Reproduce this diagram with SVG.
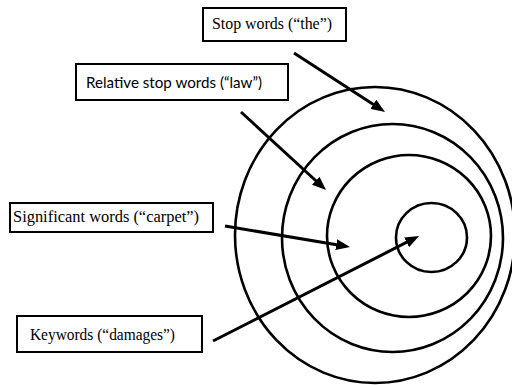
<svg xmlns="http://www.w3.org/2000/svg" width="512" height="385" viewBox="0 0 512 385">
  <style>
    .box { fill: #ffffff; stroke: #000000; stroke-width: 2; }
    .lbl { font-family: "Liberation Serif", "Times New Roman", serif; font-size: 16px; fill: #000000; }
    .lbl-alt { font-family: "Lato", "Liberation Sans", sans-serif; font-size: 15px; fill: #000000; }
    .ring { fill: none; stroke: #000000; stroke-width: 2.6; }
    .arrow { fill: none; stroke: #000000; stroke-width: 3; marker-end: url(#ah); }
  </style>
  <defs>
    <marker id="ah" markerWidth="14" markerHeight="11" refX="8" refY="5.5" orient="auto" markerUnits="userSpaceOnUse">
      <path d="M0,0 L14,5.5 L0,11 z" fill="#000000"/>
    </marker>
  </defs>
  <rect width="512" height="385" fill="#ffffff"/>

  <g id="rings">
    <ellipse class="ring" cx="375" cy="235" rx="140" ry="148"/>
    <ellipse class="ring" cx="392.5" cy="238" rx="110.5" ry="114"/>
    <ellipse class="ring" cx="409" cy="236" rx="82" ry="81"/>
    <ellipse class="ring" cx="431.5" cy="237.5" rx="35.5" ry="34.5"/>
  </g>

  <g id="connectors">
    <line class="arrow" x1="294" y1="53" x2="380" y2="108.7"/>
    <line class="arrow" x1="241" y1="112" x2="321.6" y2="186"/>
    <line class="arrow" x1="225" y1="226" x2="344.1" y2="246"/>
    <line class="arrow" x1="213" y1="341" x2="413.7" y2="238.7"/>
  </g>

  <g id="stop-words">
    <rect class="box" x="203" y="8" width="143" height="33"/>
    <text class="lbl" x="212" y="29" textLength="120" lengthAdjust="spacingAndGlyphs">Stop words (“the”)</text>
  </g>

  <g id="relative-stop-words">
    <rect class="box" x="76" y="64" width="212" height="36"/>
    <text class="lbl-alt" x="86" y="88" textLength="176" lengthAdjust="spacingAndGlyphs">Relative stop words (“law”)</text>
  </g>

  <g id="significant-words">
    <rect class="box" x="10" y="203" width="203" height="29"/>
    <text class="lbl" x="13" y="222" textLength="186" lengthAdjust="spacingAndGlyphs">Significant words (“carpet”)</text>
  </g>

  <g id="keywords">
    <rect class="box" x="17" y="316" width="185" height="36"/>
    <text class="lbl" x="30" y="340" textLength="145" lengthAdjust="spacingAndGlyphs">Keywords (“damages”)</text>
  </g>
</svg>
